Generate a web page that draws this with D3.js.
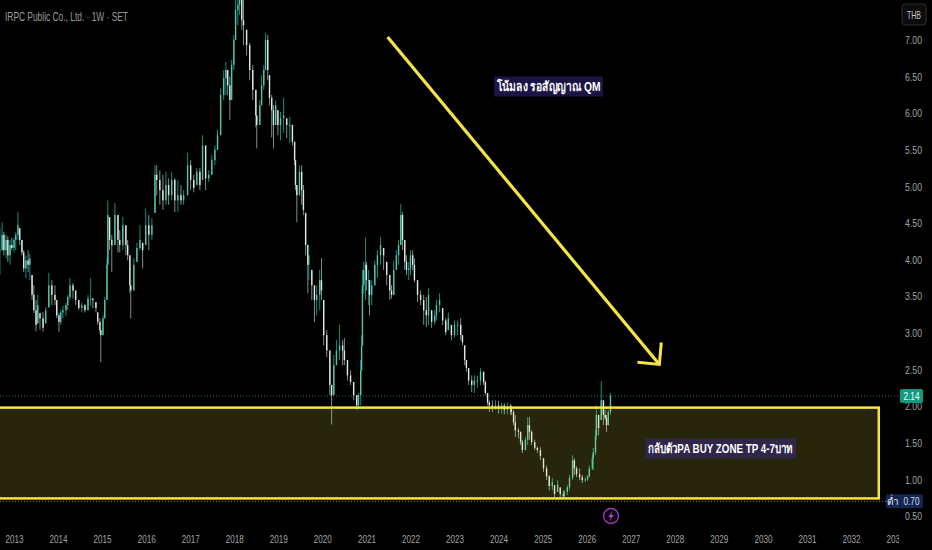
<!DOCTYPE html>
<html>
<head>
<meta charset="utf-8">
<script src="https://cdn.jsdelivr.net/npm/d3@7"></script>
<style>
    html, body { margin: 0; padding: 0; background: #000; overflow: hidden; }
    text { font-family: "Liberation Sans", sans-serif; }
    .axis path, .axis line { display: none; }
    .axis text { fill: #a3a3a3; font-size: 11.5px; }
</style>
</head>
<body>
<div id="chart"></div>
<script>
/* Values */
const barYears = [
    2012.68, 2012.73, 2012.77, 2012.82, 2012.86, 2012.91, 2012.95, 2013.00, 2013.04, 2013.09,
    2013.13, 2013.18, 2013.22, 2013.27, 2013.32, 2013.36, 2013.41, 2013.45, 2013.50, 2013.54,
    2013.59, 2013.66, 2013.72, 2013.79, 2013.86, 2013.93, 2013.97, 2014.02, 2014.06, 2014.11,
    2014.18, 2014.22, 2014.27, 2014.34, 2014.40, 2014.47, 2014.54, 2014.61, 2014.68, 2014.74,
    2014.79, 2014.86, 2014.90, 2014.95, 2014.97, 2015.02, 2015.06, 2015.11, 2015.13, 2015.17,
    2015.22, 2015.29, 2015.36, 2015.40, 2015.47, 2015.54, 2015.58, 2015.63, 2015.65, 2015.72,
    2015.79, 2015.86, 2015.92, 2015.99, 2016.06, 2016.13, 2016.20, 2016.24, 2016.31, 2016.38,
    2016.45, 2016.51, 2016.58, 2016.65, 2016.72, 2016.79, 2016.85, 2016.94, 2017.01, 2017.08,
    2017.15, 2017.22, 2017.28, 2017.35, 2017.42, 2017.49, 2017.56, 2017.62, 2017.69, 2017.76,
    2017.81, 2017.85, 2017.90, 2017.94, 2017.99, 2018.03, 2018.08, 2018.12, 2018.17, 2018.21,
    2018.28, 2018.35, 2018.42, 2018.49, 2018.51, 2018.58, 2018.62, 2018.67, 2018.71, 2018.76,
    2018.80, 2018.85, 2018.89, 2018.94, 2018.99, 2019.05, 2019.12, 2019.19, 2019.26, 2019.32,
    2019.37, 2019.39, 2019.42, 2019.48, 2019.53, 2019.57, 2019.62, 2019.67, 2019.69, 2019.76,
    2019.82, 2019.87, 2019.94, 2019.98, 2020.03, 2020.10, 2020.17, 2020.21, 2020.26, 2020.32,
    2020.39, 2020.46, 2020.50, 2020.57, 2020.64, 2020.71, 2020.78, 2020.82, 2020.87, 2020.89,
    2020.91, 2020.94, 2020.98, 2021.00, 2021.05, 2021.07, 2021.12, 2021.19, 2021.25, 2021.32,
    2021.39, 2021.46, 2021.53, 2021.57, 2021.62, 2021.68, 2021.73, 2021.78, 2021.82, 2021.87,
    2021.91, 2021.96, 2022.00, 2022.05, 2022.09, 2022.16, 2022.23, 2022.30, 2022.36, 2022.41,
    2022.48, 2022.55, 2022.59, 2022.66, 2022.73, 2022.80, 2022.86, 2022.93, 2023.00, 2023.07,
    2023.14, 2023.18, 2023.23, 2023.27, 2023.32, 2023.39, 2023.45, 2023.52, 2023.59, 2023.66,
    2023.70, 2023.75, 2023.79, 2023.86, 2023.93, 2024.00, 2024.07, 2024.13, 2024.20, 2024.27,
    2024.29, 2024.34, 2024.38, 2024.45, 2024.50, 2024.54, 2024.61, 2024.66, 2024.70, 2024.75,
    2024.82, 2024.88, 2024.95, 2025.02, 2025.09, 2025.15, 2025.22, 2025.27, 2025.34, 2025.40,
    2025.47, 2025.49, 2025.56, 2025.61, 2025.68, 2025.72, 2025.77, 2025.84, 2025.90, 2025.97,
    2026.02, 2026.06, 2026.13, 2026.15, 2026.20, 2026.22, 2026.27, 2026.33, 2026.38, 2026.42,
    2026.45, 2026.49, 2026.54
];
const barHighs = [
    4.43, 4.51, 4.38, 4.34, 4.32, 4.27, 4.30, 4.30, 4.38, 4.65,
    4.43, 4.27, 4.13, 4.06, 4.13, 4.08, 3.79, 3.65, 3.45, 3.52,
    3.27, 3.28, 3.35, 3.82, 3.72, 3.65, 3.45, 3.27, 3.31, 3.37,
    3.41, 3.52, 3.75, 3.68, 3.58, 3.45, 3.41, 3.39, 3.52, 3.75,
    3.47, 3.42, 3.28, 3.20, 3.04, 3.24, 3.49, 4.02, 4.81, 4.58,
    4.34, 4.77, 4.61, 4.40, 4.58, 4.47, 4.27, 4.06, 3.72, 4.02,
    4.23, 4.47, 4.23, 4.70, 4.61, 4.57, 5.29, 5.29, 5.22, 5.16,
    5.20, 5.11, 5.20, 5.11, 5.09, 5.02, 4.95, 5.46, 5.36, 5.16,
    5.25, 5.25, 5.70, 5.56, 5.22, 5.43, 5.56, 5.77, 6.34, 6.59,
    6.70, 6.59, 6.50, 6.73, 7.07, 7.55, 7.61, 7.68, 7.68, 7.68,
    7.14, 6.96, 6.66, 6.32, 5.97, 6.18, 6.52, 6.66, 7.10, 7.07,
    6.52, 6.25, 6.11, 6.18, 6.04, 6.02, 6.21, 5.93, 5.95, 5.84,
    5.61, 5.36, 5.02, 5.29, 5.29, 5.02, 4.64, 4.20, 4.17, 3.86,
    3.65, 3.65, 3.86, 4.02, 3.45, 3.04, 2.76, 2.29, 2.70, 2.90,
    3.11, 2.90, 2.93, 2.63, 2.49, 2.33, 2.15, 2.18, 2.63, 2.97,
    3.86, 3.97, 4.30, 3.97, 3.86, 3.72, 3.72, 3.99, 4.13, 4.31,
    4.16, 3.97, 3.79, 3.65, 3.99, 4.13, 4.27, 4.76, 4.65, 4.27,
    4.06, 3.97, 4.13, 4.13, 4.02, 3.72, 3.58, 3.52, 3.49, 3.61,
    3.31, 3.31, 3.45, 3.54, 3.34, 3.20, 3.28, 3.11, 3.17, 3.17,
    3.20, 2.97, 2.83, 2.63, 2.52, 2.42, 2.42, 2.42, 2.52, 2.47,
    2.35, 2.18, 2.08, 2.08, 2.08, 2.07, 2.05, 2.04, 2.05, 2.03,
    2.01, 1.95, 1.88, 1.70, 1.65, 1.54, 1.58, 1.85, 1.85, 1.67,
    1.54, 1.45, 1.44, 1.29, 1.19, 1.06, 1.02, 0.92, 0.99, 0.89,
    0.85, 0.85, 0.92, 1.06, 1.33, 1.29, 1.18, 1.15, 1.06, 1.03,
    1.06, 1.19, 1.33, 1.43, 1.67, 2.01, 1.88, 2.34, 2.08, 1.95,
    1.88, 1.95, 2.18
];
const barLows = [
    3.79, 4.13, 4.06, 4.02, 3.97, 3.93, 4.13, 4.10, 4.13, 4.27,
    4.20, 4.06, 3.83, 3.75, 3.83, 3.72, 3.45, 3.27, 3.02, 3.13,
    3.04, 3.02, 3.13, 3.35, 3.38, 3.38, 3.20, 3.01, 3.11, 3.20,
    3.23, 3.31, 3.45, 3.47, 3.38, 3.31, 3.28, 3.28, 3.31, 3.37,
    3.34, 3.28, 3.11, 3.00, 2.60, 2.97, 3.20, 3.45, 3.93, 4.13,
    3.83, 4.20, 4.10, 4.10, 4.13, 4.06, 3.99, 3.55, 3.20, 3.58,
    3.97, 4.13, 3.88, 4.20, 4.13, 4.27, 4.64, 4.88, 4.75, 4.68,
    4.75, 4.75, 4.81, 4.65, 4.65, 4.75, 4.75, 4.88, 4.95, 4.92,
    5.02, 4.95, 5.09, 4.95, 5.06, 5.16, 5.29, 5.50, 5.70, 6.18,
    6.25, 6.25, 5.91, 6.18, 6.59, 7.00, 7.20, 7.34, 7.14, 6.93,
    6.79, 6.45, 6.18, 5.81, 5.52, 5.84, 6.11, 6.32, 6.59, 6.45,
    6.11, 5.67, 5.52, 5.84, 5.70, 5.63, 5.73, 5.66, 5.59, 5.56,
    5.29, 4.95, 4.51, 4.88, 4.75, 4.61, 4.06, 3.54, 3.72, 3.45,
    3.15, 3.24, 3.31, 3.45, 2.83, 2.67, 2.15, 1.75, 2.15, 2.56,
    2.63, 2.56, 2.56, 2.35, 2.29, 2.08, 1.95, 1.97, 2.01, 2.47,
    2.83, 3.54, 3.45, 3.58, 3.38, 3.24, 3.38, 3.65, 3.75, 3.93,
    3.86, 3.65, 3.45, 3.47, 3.52, 3.86, 3.93, 4.20, 4.13, 3.86,
    3.79, 3.72, 3.79, 3.86, 3.69, 3.42, 3.38, 3.11, 3.08, 3.11,
    3.07, 3.11, 3.17, 3.28, 3.11, 2.97, 3.04, 2.90, 2.93, 2.97,
    2.90, 2.83, 2.56, 2.47, 2.29, 2.19, 2.18, 2.25, 2.29, 2.29,
    2.15, 2.01, 1.92, 1.92, 1.95, 1.90, 1.90, 1.89, 1.89, 1.88,
    1.88, 1.74, 1.58, 1.56, 1.47, 1.36, 1.40, 1.47, 1.54, 1.47,
    1.40, 1.36, 1.26, 1.10, 0.99, 0.85, 0.85, 0.76, 0.83, 0.76,
    0.74, 0.74, 0.78, 0.85, 0.99, 1.06, 1.03, 0.99, 0.95, 0.96,
    0.98, 1.03, 1.13, 1.13, 1.33, 1.54, 1.60, 1.81, 1.74, 1.81,
    1.65, 1.74, 1.88
];
const barCloses = [
    4.13, 4.34, 4.13, 4.27, 4.06, 4.20, 4.16, 4.27, 4.34, 4.47,
    4.27, 4.10, 3.88, 3.99, 3.93, 4.02, 3.52, 3.31, 3.11, 3.38,
    3.20, 3.07, 3.31, 3.65, 3.52, 3.45, 3.24, 3.15, 3.28, 3.31,
    3.38, 3.49, 3.65, 3.58, 3.45, 3.34, 3.38, 3.31, 3.47, 3.47,
    3.45, 3.34, 3.15, 3.04, 2.97, 3.20, 3.45, 3.93, 4.61, 4.27,
    4.20, 4.61, 4.27, 4.20, 4.47, 4.20, 4.06, 3.65, 3.58, 3.93,
    4.16, 4.27, 4.13, 4.47, 4.34, 4.47, 5.16, 5.09, 4.95, 4.81,
    5.02, 4.88, 5.09, 4.81, 4.88, 4.81, 4.88, 5.29, 5.09, 4.98,
    5.20, 5.02, 5.56, 5.11, 5.16, 5.36, 5.50, 5.70, 6.25, 6.48,
    6.59, 6.38, 6.18, 6.66, 7.00, 7.41, 7.48, 7.55, 7.27, 7.20,
    6.93, 6.59, 6.32, 5.97, 5.84, 6.11, 6.38, 6.59, 7.00, 6.59,
    6.21, 6.04, 5.84, 6.11, 5.84, 5.93, 5.97, 5.84, 5.84, 5.61,
    5.36, 5.02, 4.88, 5.20, 4.95, 4.68, 4.20, 3.93, 4.06, 3.65,
    3.45, 3.52, 3.72, 3.58, 2.97, 2.76, 2.29, 2.15, 2.56, 2.76,
    2.83, 2.76, 2.63, 2.42, 2.33, 2.15, 2.01, 2.15, 2.49, 2.83,
    3.65, 3.86, 3.93, 3.72, 3.72, 3.52, 3.65, 3.93, 4.06, 4.20,
    4.06, 3.79, 3.58, 3.52, 3.86, 4.06, 4.20, 4.61, 4.27, 3.97,
    3.86, 3.88, 4.06, 3.93, 3.72, 3.52, 3.45, 3.31, 3.24, 3.52,
    3.15, 3.24, 3.38, 3.45, 3.17, 3.01, 3.20, 2.97, 3.11, 3.11,
    2.97, 2.87, 2.63, 2.52, 2.35, 2.29, 2.35, 2.35, 2.47, 2.33,
    2.18, 2.05, 2.01, 1.97, 2.01, 1.97, 2.01, 1.95, 2.00, 1.97,
    1.92, 1.78, 1.67, 1.65, 1.51, 1.40, 1.54, 1.74, 1.65, 1.51,
    1.43, 1.40, 1.32, 1.15, 1.04, 0.91, 0.96, 0.80, 0.93, 0.80,
    0.77, 0.83, 0.89, 1.02, 1.26, 1.15, 1.07, 1.03, 0.99, 1.00,
    1.04, 1.15, 1.29, 1.37, 1.60, 1.88, 1.70, 2.08, 1.88, 1.84,
    1.74, 1.92, 2.14
];
const yearTicks = [2013, 2014, 2015, 2016, 2017, 2018, 2019, 2020, 2021, 2022, 2023, 2024, 2025, 2026, 2027, 2028, 2029, 2030, 2031, 2032, 2033];
const priceTicks = [0.5, 1, 1.5, 2, 2.5, 3, 3.5, 4, 4.5, 5, 5.5, 6, 6.5, 7];
const lastPrice = 2.14;
const lowPrice = 0.70;
const zoneYears = [2012.5, 2032.63];
const zonePrices = [1.98, 0.74];
const arrowYears = [2021.48, 2027.65];
const arrowPrices = [7.04, 2.57];

const width = 932, height = 550, axisX = 899;
const yellow = "#f4e545";

const x = d3.scaleLinear().domain([2013, 2032]).range([14, 851]);
const y = d3.scaleLinear().domain([7, 0.5]).range([40, 516]);

const svg = d3.select("#chart")
    .append("svg")
    .attr("width", width)
    .attr("height", height)
    .style("display", "block")
    .style("background", "#000");

svg.append("defs").append("clipPath")
    .attr("id", "plot-clip")
    .append("rect")
    .attr("width", axisX)
    .attr("height", height);

// the chart font is condensed, squeeze a label to the width it has there
function squeeze(sel, w) {
    sel.attr("textLength", w).attr("lengthAdjust", "spacingAndGlyphs");
}

const bars = barYears.map((year, i) => {
    // weekly bars open about where the last one closed
    const prev = i ? barCloses[i - 1] : barCloses[0];
    return {
        year: year,
        high: barHighs[i],
        low: barLows[i],
        close: barCloses[i],
        open: Math.max(barLows[i], Math.min(barHighs[i], prev))
    };
});

// last price and low lines
svg.append("line")
    .attr("x1", 0).attr("x2", axisX)
    .attr("y1", y(lastPrice)).attr("y2", y(lastPrice))
    .attr("stroke", "#1b7a69")
    .attr("stroke-dasharray", "1 2");
svg.append("line")
    .attr("x1", 0).attr("x2", axisX)
    .attr("y1", y(lowPrice)).attr("y2", y(lowPrice))
    .attr("stroke", "#777")
    .attr("stroke-dasharray", "1 2");

// candles
const candle = svg.append("g").selectAll("g")
    .data(bars)
    .join("g");
candle.append("line")
    .attr("x1", d => x(d.year)).attr("x2", d => x(d.year))
    .attr("y1", d => y(d.high)).attr("y2", d => y(d.low))
    .attr("stroke", d => d.close >= d.open ? "#0f8f7c" : "#7d8f8b")
    .attr("stroke-width", 1);
candle.append("rect")
    .attr("x", d => x(d.year) - 0.7)
    .attr("width", 1.4)
    .attr("y", d => y(Math.max(d.open, d.close)))
    .attr("height", d => Math.max(1, Math.abs(y(d.open) - y(d.close))))
    .attr("fill", d => d.close >= d.open ? "#58c4ae" : "#dfe9e6");

// buy zone
svg.append("rect")
    .attr("x", x(zoneYears[0]))
    .attr("y", y(zonePrices[0]))
    .attr("width", x(zoneYears[1]) - x(zoneYears[0]))
    .attr("height", y(zonePrices[1]) - y(zonePrices[0]))
    .attr("fill", yellow)
    .attr("fill-opacity", 0.16)
    .attr("stroke", yellow)
    .attr("stroke-width", 2.5);

// arrow
const ax = x(arrowYears[1]), ay = y(arrowPrices[1]);
const angle = Math.atan2(ay - y(arrowPrices[0]), ax - x(arrowYears[0]));
const barb = s => [ax - 22 * Math.cos(angle + s), ay - 22 * Math.sin(angle + s)];
svg.append("path")
    .attr("d", d3.line()([[x(arrowYears[0]), y(arrowPrices[0])], [ax, ay]]))
    .attr("stroke", yellow)
    .attr("stroke-width", 3.2)
    .attr("fill", "none");
svg.append("path")
    .attr("d", d3.line()([barb(0.78), [ax, ay], barb(-0.78)]))
    .attr("stroke", yellow)
    .attr("stroke-width", 3)
    .attr("fill", "none");

// notes
function note(label, cx, cy, w, textW, fill) {
    svg.append("rect")
        .attr("x", cx - w / 2).attr("y", cy - 10)
        .attr("width", w).attr("height", 20)
        .attr("fill", fill);
    svg.append("text")
        .attr("x", cx).attr("y", cy + 4.5)
        .attr("text-anchor", "middle")
        .attr("fill", "#fff")
        .attr("font-size", 13)
        .attr("font-weight", "bold")
        .text(label)
        .call(squeeze, textW);
}
note("โน้มลง รอสัญญาณ QM", 548.5, 86.5, 109, 104, "#1c1445");
note("กลับตัวPA BUY ZONE TP 4-7บาท", 720.5, 448.5, 151, 145, "#30264a");

// axes
svg.append("g")
    .attr("class", "axis")
    .attr("clip-path", "url(#plot-clip)")
    .attr("transform", "translate(0,532)")
    .call(d3.axisBottom(x).tickValues(yearTicks).tickSize(0).tickFormat(d3.format("d")))
    .selectAll("text").call(squeeze, 18);
svg.append("g")
    .attr("class", "axis")
    .attr("transform", "translate(925,0)")
    .call(d3.axisLeft(y).tickValues(priceTicks).tickSize(0).tickFormat(d3.format(".2f")))
    .selectAll("text").call(squeeze, 17);

// price tags
svg.append("rect")
    .attr("x", 900).attr("y", y(lastPrice) - 7)
    .attr("width", 23).attr("height", 14).attr("rx", 2)
    .attr("fill", "#0e9c80");
svg.append("text")
    .attr("x", 911.5).attr("y", y(lastPrice) + 4)
    .attr("text-anchor", "middle").attr("fill", "#fff").attr("font-size", 11.5)
    .text(d3.format(".2f")(lastPrice))
    .call(squeeze, 16);
svg.append("rect")
    .attr("x", 886).attr("y", y(lowPrice) - 7)
    .attr("width", 37).attr("height", 14).attr("rx", 2)
    .attr("fill", "#13264f");
svg.append("text")
    .attr("x", 892.5).attr("y", y(lowPrice) + 4)
    .attr("text-anchor", "middle").attr("fill", "#e6ecff").attr("font-size", 10)
    .text("ต่ำ");
svg.append("text")
    .attr("x", 911.5).attr("y", y(lowPrice) + 4)
    .attr("text-anchor", "middle").attr("fill", "#d5def5").attr("font-size", 11.5)
    .text(d3.format(".2f")(lowPrice))
    .call(squeeze, 16);

// currency button
svg.append("rect")
    .attr("x", 902).attr("y", 4).attr("width", 24).attr("height", 21).attr("rx", 3)
    .attr("fill", "#0c0c0c").attr("stroke", "#2c2c2c");
svg.append("text")
    .attr("x", 914).attr("y", 18.5)
    .attr("text-anchor", "middle").attr("fill", "#c8c8c8").attr("font-size", 10.5)
    .text("THB")
    .call(squeeze, 14);

// title
svg.append("text")
    .attr("x", 5).attr("y", 21)
    .attr("fill", "#9a9a9a").attr("font-size", 12.5)
    .text("IRPC Public Co., Ltd. · 1W · SET")
    .call(squeeze, 123);

// event marker
const marker = svg.append("g").attr("transform", "translate(611,516)");
marker.append("circle")
    .attr("r", 7.5)
    .attr("fill", "#0c0410")
    .attr("stroke", "#9c3fbd")
    .attr("stroke-width", 1.3);
marker.append("path")
    .attr("d", "M2,-5.5 L-2.8,1 L-0.2,1 L-2,5.5 L2.8,-1 L0.2,-1 Z")
    .attr("fill", "#a94dca");
</script>
</body>
</html>
